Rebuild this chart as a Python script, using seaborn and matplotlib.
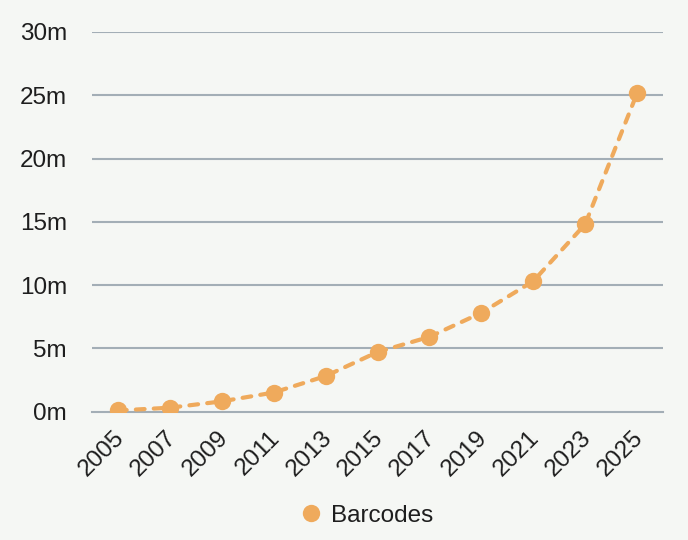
import matplotlib
matplotlib.use("Agg")
import matplotlib.pyplot as plt
import matplotlib.transforms as mtransforms
import seaborn as sns
import pandas as pd
from matplotlib.lines import Line2D

years = ["2005", "2007", "2009", "2011", "2013", "2015", "2017", "2019", "2021", "2023", "2025"]
barcodes_m = [0.08, 0.3, 0.8, 1.5, 2.8, 4.7, 5.9, 7.8, 10.3, 14.8, 25.15]
y_ticks = [0, 5, 10, 15, 20, 25, 30]
y_labels = ["0m", "5m", "10m", "15m", "20m", "25m", "30m"]
series_name = "Barcodes"

df = pd.DataFrame({"year": years, "value": barcodes_m})
df["pos"] = range(len(df))

bg = "#F5F7F4"
orange = "#EFAA5C"
grid_c = "#A3AEB6"
text_c = "#1E1E1E"
fs = 17.5

sns.set_theme(style="white")
plt.rcParams["font.family"] = ["Liberation Sans", "DejaVu Sans"]

fig = plt.figure(figsize=(6.88, 5.40), dpi=100, facecolor=bg)
ax = fig.add_axes([92 / 688, 1 - 411.5 / 540, (663 - 92) / 688, (411.5 - 32) / 540])
ax.set_facecolor(bg)

sns.lineplot(data=df, x="pos", y="value", ax=ax, color=orange, linewidth=3,
             dashes=False, marker="o", markersize=12.5, markeredgewidth=0, zorder=3)
ax.lines[0].set_linestyle((0, (2.1, 2.2)))
ax.lines[0].set_dash_capstyle("round")

ax.set_xlim(-0.5, len(years) - 0.5)
ax.set_ylim(0, 30)
ax.set_yticks(y_ticks)
ax.set_yticklabels(y_labels)
ax.set_xticks(range(len(years)))
ax.set_xticklabels(years, rotation=45, ha="right", rotation_mode="anchor")
ax.set_xticks([i - 0.5 for i in range(len(years) + 1)], minor=True)
ax.tick_params(axis="x", which="major", length=0, pad=11, labelsize=fs, colors=text_c)
ax.tick_params(axis="x", which="minor", length=7, width=1.5, color=grid_c, direction="out")
ax.tick_params(axis="y", length=0, pad=18, labelsize=fs, colors=text_c)
ax.set_xlabel("")
ax.set_ylabel("")

offset = mtransforms.ScaledTranslation(-5 / 100, 0, fig.dpi_scale_trans)
for lab in ax.get_xticklabels():
    lab.set_transform(lab.get_transform() + offset)

for v in y_ticks[1:]:
    ax.axhline(v, color=grid_c, linewidth=1.5, zorder=1)
for s in ["top", "right", "left"]:
    ax.spines[s].set_visible(False)
ax.spines["bottom"].set_color(grid_c)
ax.spines["bottom"].set_linewidth(1.5)

handle = Line2D([], [], color=orange, marker="o", markersize=12.5, linestyle="none", markeredgewidth=0)
fig.legend([handle], [series_name], loc="center", bbox_to_anchor=(0.532, 0.045),
           frameon=False, fontsize=fs, handlelength=1.0, handletextpad=0.3, labelcolor=text_c)

fig.savefig("out.png", dpi=100, facecolor=bg)
